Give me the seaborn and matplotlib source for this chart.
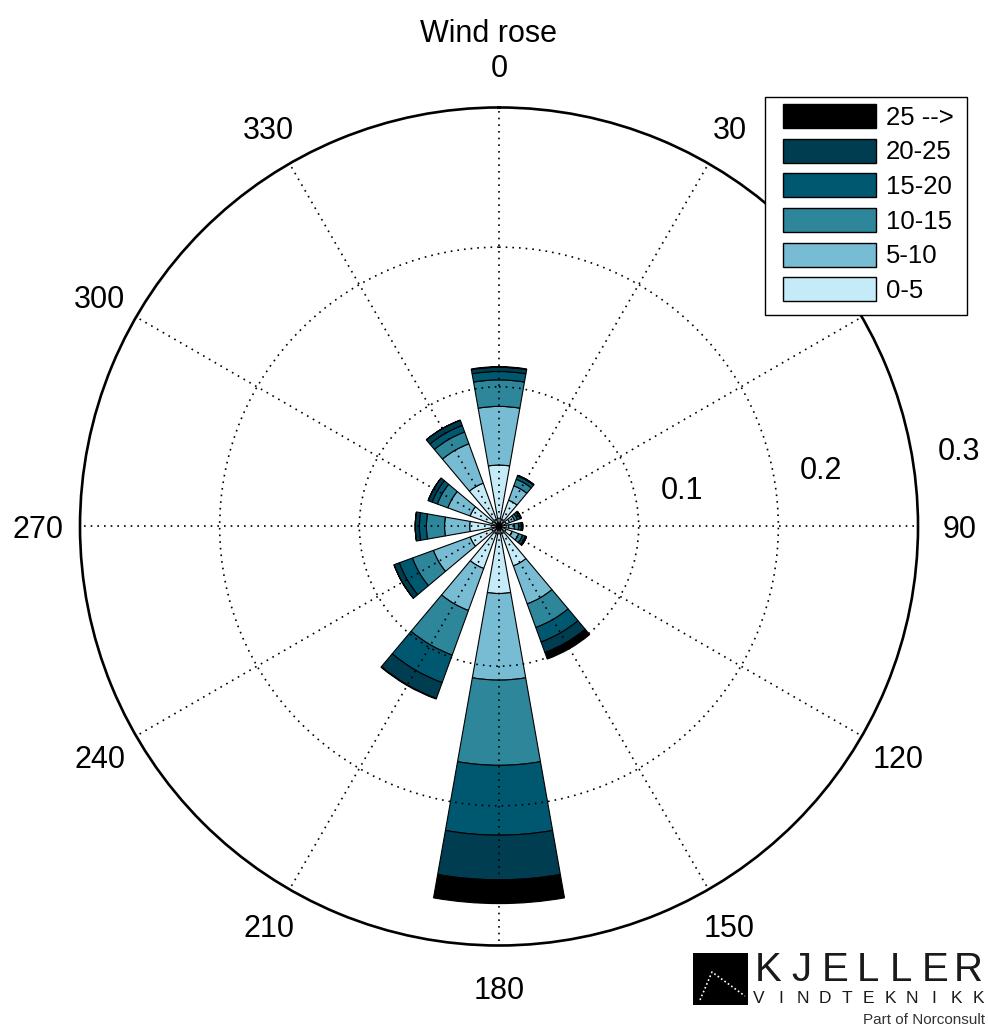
import numpy as np
import matplotlib
matplotlib.use('Agg')
import matplotlib.pyplot as plt
from matplotlib.patches import Patch, Rectangle
import seaborn as sns

# wind directions (deg, clockwise from north) and speed classes
directions = [0, 30, 60, 90, 120, 150, 180, 210, 240, 270, 300, 330]
speed_bins = ['0-5', '5-10', '10-15', '15-20', '20-25', '25 -->']
bin_colors = ['#c5ebf8', '#77bcd3', '#2e869b', '#005870', '#003d50', '#000000']

# frequency per speed class for each direction
freq_0_5 = [0.044, 0.020, 0.008, 0.007, 0.010, 0.030, 0.048, 0.032, 0.022, 0.021, 0.022, 0.033]
freq_5_10 = [0.042, 0.011, 0.004, 0.004, 0.005, 0.029, 0.062, 0.032, 0.028, 0.018, 0.017, 0.030]
freq_10_15 = [0.019, 0.005, 0.002, 0.003, 0.003, 0.018, 0.061, 0.034, 0.016, 0.013, 0.008, 0.009]
freq_15_20 = [0.006, 0.0025, 0.002, 0.002, 0.002, 0.011, 0.050, 0.021, 0.010, 0.005, 0.004, 0.005]
freq_20_25 = [0.003, 0.0005, 0.001, 0.001, 0.001, 0.008, 0.032, 0.012, 0.004, 0.003, 0.003, 0.004]
freq_25_up = [0.0005, 0.0, 0.0, 0.0, 0.0, 0.005, 0.017, 0.0005, 0.0, 0.0, 0.0, 0.0]
freqs = [freq_0_5, freq_5_10, freq_10_15, freq_15_20, freq_20_25, freq_25_up]

ring_ticks = [0.1, 0.2, 0.3]
# the 60 label sits under the legend in the original, so it is not drawn
angle_labels = ['0', '30', '', '90', '120', '150', '180', '210', '240', '270', '300', '330']

sns.set_theme(style='white')
plt.rcParams['font.family'] = ['Liberation Sans', 'DejaVu Sans']
plt.rcParams['text.color'] = 'black'

fig = plt.figure(figsize=(9.88, 10.28), dpi=100)
ax = fig.add_axes([0.08097, 0.08025, 0.8482, 0.8152], projection='polar')
ax.set_theta_zero_location('N')
ax.set_theta_direction(-1)

theta = np.deg2rad(directions)
width = np.deg2rad(20)
bottom = np.zeros(len(directions))
for vals, col, lab in zip(freqs, bin_colors, speed_bins):
    vals = np.array(vals)
    ax.bar(theta, vals, width=width, bottom=bottom, color=col,
           edgecolor='black', linewidth=0.8, label=lab, zorder=1)
    bottom += vals

ax.set_ylim(0, 0.3)
ax.set_rticks(ring_ticks[:2])
ax.set_yticklabels([])
ax.set_thetagrids(directions, labels=[])
ax.set_axisbelow(False)
ax.grid(True, color='black', linestyle=(0, (1, 3)), linewidth=1.2)
ax.spines['polar'].set_color('black')
ax.spines['polar'].set_linewidth(1.9)
ax.set_facecolor('white')

# direction labels
for d, lab in zip(directions, angle_labels):
    if lab:
        ax.text(np.deg2rad(d), 0.33, lab, ha='center', va='center_baseline',
                fontsize=22, clip_on=False, zorder=0)

# ring labels
for r in ring_ticks:
    ax.annotate(f'{r:g}', xy=(np.deg2rad(82), r), xytext=(32.4, 14.4),
                textcoords='offset points', ha='center', va='center_baseline',
                fontsize=22, annotation_clip=False)

fig.text(488 / 988, 1 - 31 / 1028, 'Wind rose', ha='center',
         va='center_baseline', fontsize=22)

# legend box drawn by hand so the margins match, entries top class first
frame = Rectangle((765 / 988, 1 - 315 / 1028), 202 / 988, 218 / 1028,
                  transform=fig.transFigure, facecolor='white',
                  edgecolor='black', linewidth=1.0, zorder=5)
fig.patches.append(frame)
handles = [Patch(facecolor=c, edgecolor='black', linewidth=1.0, label=l)
           for c, l in zip(bin_colors[::-1], speed_bins[::-1])]
leg = fig.legend(handles=handles, loc='upper left',
                 bbox_to_anchor=(783 / 988, 1 - 104 / 1028),
                 fontsize=18.5, handlelength=3.6, handleheight=1.05,
                 labelspacing=0.35, handletextpad=0.4, borderpad=0.0,
                 borderaxespad=0.0, frameon=False)
leg.set_zorder(10)

# company logo
logo = Rectangle((693 / 988, 1 - 1005 / 1028), 55 / 988, 52 / 1028,
                 transform=fig.transFigure, facecolor='black', edgecolor='none')
fig.patches.append(logo)
fig.add_artist(plt.Line2D([700 / 988, 712 / 988, 745 / 988],
                          [1 - 1000 / 1028, 1 - 972 / 1028, 1 - 996 / 1028],
                          transform=fig.transFigure, color='white',
                          linewidth=1.2, linestyle=(0, (1, 1.5))))
big = 'KJELLER'
for x, ch in zip(np.linspace(768, 968, len(big)), big):
    fig.text(x / 988, 1 - 981 / 1028, ch, ha='center', va='baseline',
             fontsize=29, color='#1a1a1a')
small = 'VINDTEKNIKK'
for x, ch in zip(np.linspace(759, 978, len(small)), small):
    fig.text(x / 988, 1 - 1003 / 1028, ch, ha='center', va='baseline',
             fontsize=12.5, color='#1a1a1a')
fig.text(985 / 988, 1 - 1024 / 1028, 'Part of Norconsult', ha='right',
         va='baseline', fontsize=11, color='#333333')

fig.savefig('out.png', dpi=100, facecolor='white')
